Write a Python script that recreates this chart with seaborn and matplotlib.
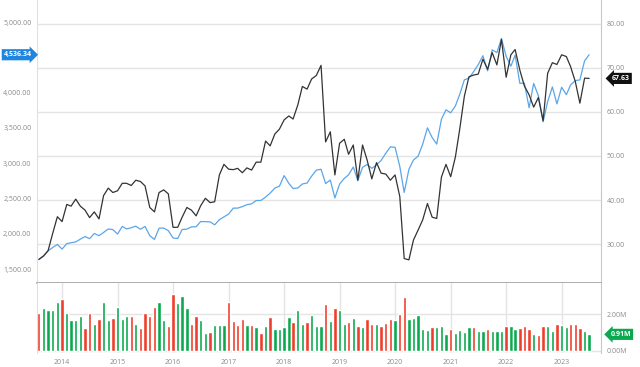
import numpy as np
import pandas as pd
import matplotlib
matplotlib.use("Agg")
import matplotlib.pyplot as plt
import matplotlib.dates as mdates
from matplotlib.transforms import blended_transform_factory
import seaborn as sns

# monthly points, Aug 2013 .. Jul 2023
dates = pd.date_range("2013-08-01", periods=120, freq="MS")

sp500 = [
    1632.97, 1681.55, 1756.54, 1805.81, 1848.36,
    1782.59, 1859.45, 1872.34, 1883.95, 1923.57, 1960.23, 1930.67, 2003.37, 1972.29, 2018.05, 2067.56, 2058.90,
    1994.99, 2104.50, 2067.89, 2085.51, 2107.39, 2063.11, 2103.84, 1972.18, 1920.03, 2079.36, 2080.41, 2043.94,
    1940.24, 1932.23, 2059.74, 2065.30, 2096.95, 2098.86, 2173.60, 2170.95, 2168.27, 2126.15, 2198.81, 2238.83,
    2278.87, 2363.64, 2362.72, 2384.20, 2411.80, 2423.41, 2470.30, 2471.65, 2519.36, 2575.26, 2647.58, 2673.61,
    2823.81, 2713.83, 2640.87, 2648.05, 2705.27, 2718.37, 2816.29, 2901.52, 2913.98, 2711.74, 2760.17, 2506.85,
    2704.10, 2784.49, 2834.40, 2945.83, 2752.06, 2941.76, 2980.38, 2926.46, 2976.74, 3037.56, 3140.98, 3230.78,
    3225.52, 2954.22, 2584.59, 2912.43, 3044.31, 3100.29, 3271.12, 3500.31, 3363.00, 3269.96, 3621.63, 3756.07,
    3714.24, 3811.15, 3972.89, 4181.17, 4204.11, 4297.50, 4395.26, 4522.68, 4307.54, 4605.38, 4567.00, 4766.18,
    4515.55, 4373.94, 4530.41, 4131.93, 4132.15, 3785.38, 4130.29, 3955.00, 3585.62, 3871.98, 4080.11, 3839.50,
    4076.60, 3970.15, 4109.31, 4169.48, 4179.83, 4450.38, 4536.34,
]

stock = [
    26.5, 27.3, 28.5, 32.5, 36.2, 35.1, 39.0, 38.6, 40.2, 38.6,
    37.7, 36.0, 37.3, 35.7, 41.0, 42.7, 41.7, 42.1, 43.8, 43.8,
    43.3, 44.5, 44.2, 43.2, 38.3, 37.3, 41.7, 42.3, 41.4, 33.8,
    33.8, 36.1, 38.3, 37.7, 36.4, 38.7, 40.4, 39.4, 39.6, 45.7,
    48.1, 47.0, 46.9, 47.2, 46.2, 47.3, 46.8, 48.6, 48.6, 53.4,
    52.3, 55.0, 56.1, 58.2, 59.1, 58.4, 61.6, 65.8, 65.2, 67.5,
    68.3, 70.6, 53.2, 55.5, 45.7, 52.9, 53.8, 50.4, 52.5, 44.5,
    52.5, 49.1, 44.8, 48.5, 46.1, 45.9, 44.5, 45.7, 40.8, 26.7,
    26.4, 30.9, 33.2, 35.5, 39.2, 36.1, 35.8, 45.2, 48.1, 45.3,
    49.8, 56.0, 63.6, 68.0, 68.4, 68.6, 72.0, 69.7, 73.5, 70.7,
    76.5, 67.9, 73.0, 74.2, 69.5, 65.9, 63.9, 61.1, 63.3, 58.0,
    68.8, 71.2, 70.8, 73.0, 72.6, 70.3, 66.9, 62.0, 67.7, 67.63,
]

volume_m = [
    2.09, 2.37, 2.26, 2.24, 2.67, 2.87, 2.09, 1.70, 1.69, 1.91,
    1.26, 2.06, 1.50, 1.76, 2.67, 1.72, 1.81, 2.39, 1.76, 1.90,
    1.93, 1.48, 1.26, 2.07, 1.93, 2.41, 2.67, 1.69, 1.37, 3.11,
    2.65, 3.00, 2.35, 1.46, 1.89, 1.67, 0.98, 1.02, 1.43, 1.43,
    1.43, 2.67, 1.63, 1.43, 1.74, 1.41, 1.43, 1.33, 1.00, 1.35,
    1.85, 1.20, 1.20, 1.31, 1.87, 1.61, 2.26, 1.48, 1.59, 1.96,
    1.39, 1.39, 2.56, 1.63, 2.35, 2.22, 1.46, 1.61, 1.81, 1.39,
    1.30, 1.74, 1.46, 1.50, 1.39, 1.52, 1.76, 1.70, 2.04, 2.94,
    1.74, 1.78, 1.96, 1.20, 1.15, 1.31, 1.30, 1.35, 0.94, 1.19,
    1.00, 1.17, 1.04, 1.30, 1.30, 1.09, 1.11, 1.19, 1.07, 1.07,
    1.07, 1.37, 1.35, 1.19, 1.24, 1.37, 1.22, 0.94, 0.87, 1.35,
    1.39, 1.09, 1.50, 1.44, 1.33, 1.46, 1.48, 1.26, 1.09, 0.91,
]

# u = green bar, d = red bar, ten months per chunk
volume_dir = "".join([
    "duuuuduuuu", "dduduuduuu", "dudddduudd", "uuudduuduu",
    "uddddududu", "duuuuduudu", "uududuudud", "uddudddudd",
    "uuuuuduuud", "uuuuduuduu", "uduudddudd", "uuduuddduu",
])

S_COLOR = "#5aa6ea"
STK_COLOR = "#333333"
UP = "#0aa84f"
DOWN = "#ef3d2b"
GRID = "#e4e4e4"
TXT = "#8a8a8a"

df = pd.DataFrame({"date": dates, "sp500": sp500, "stock": stock, "volume": volume_m})
colors = [UP if c == "u" else DOWN for c in volume_dir]

sns.set_style("white")
plt.rcParams["font.family"] = ["Open Sans", "DejaVu Sans"]

W, H = 640, 367


def rect(x0, y0, x1, y1):
    return [x0 / W, 1 - y1 / H, (x1 - x0) / W, (y1 - y0) / H]


fig = plt.figure(figsize=(6.4, 3.67), dpi=100)
ax_l = fig.add_axes(rect(37, 0, 601, 283))
ax_g = ax_l.twinx()
ax_r = ax_l.twinx()
ax_g.set_zorder(0)
ax_l.set_zorder(1)
ax_r.set_zorder(2)
ax_l.patch.set_visible(False)
ax_g.patch.set_visible(True)
ax_g.patch.set_facecolor("white")

# lines
sns.lineplot(data=df, x="date", y="sp500", ax=ax_l, color=S_COLOR, linewidth=0.9)
sns.lineplot(data=df, x="date", y="stock", ax=ax_r, color=STK_COLOR, linewidth=0.9)

xmin, xmax = pd.Timestamp("2013-07-20"), pd.Timestamp("2023-09-17")
ax_l.set_xlim(xmin, xmax)
ax_l.set_ylim(1302, 5312)
ax_g.set_ylim(21.14, 85.45)
ax_r.set_ylim(21.14, 85.45)

ax_l.set_yticks([1500, 2000, 2500, 3000, 3500, 4000, 5000])
ax_l.set_yticklabels([f"{v:,.2f}" for v in ax_l.get_yticks()])
ax_g.set_yticks([30, 40, 50, 60, 70, 80])
ax_g.set_yticklabels([f"{v:.2f}" for v in ax_g.get_yticks()])
ax_r.set_yticks([])

for a in (ax_l, ax_g, ax_r):
    a.set_xlabel("")
    a.set_ylabel("")
    a.xaxis.set_major_locator(mdates.YearLocator())
    a.tick_params(axis="x", labelbottom=False, length=0)
    a.tick_params(axis="y", length=0, labelsize=5, labelcolor=TXT, pad=4)
    for s in a.spines.values():
        s.set_visible(False)

ax_g.grid(True, color=GRID, linewidth=1)
ax_g.spines["left"].set_visible(True)
ax_g.spines["left"].set_color("#e0e0e0")
ax_g.spines["right"].set_visible(True)
ax_g.spines["right"].set_color("#c8c8c8")
ax_g.spines["bottom"].set_visible(True)
ax_g.spines["bottom"].set_color("#a0a0a0")
ax_g.spines["bottom"].set_linewidth(1.2)

# volume panel
ax_v = fig.add_axes(rect(37, 283, 601, 353), sharex=ax_l)
ax_v.bar(df["date"], df["volume"], width=22, color=colors, zorder=2)
ax_v.set_ylim(-0.11, 3.72)
ax_v.yaxis.tick_right()
ax_v.set_yticks([0, 2])
ax_v.set_yticklabels(["0.00M", "2.00M"])
ax_v.xaxis.set_major_locator(mdates.YearLocator())
ax_v.xaxis.set_major_formatter(mdates.DateFormatter("%Y"))
ax_v.tick_params(axis="both", length=0, labelsize=5, labelcolor=TXT)
ax_v.tick_params(axis="x", pad=4)
ax_v.tick_params(axis="y", pad=4)
ax_v.grid(True, color=GRID, linewidth=1, zorder=0)
ax_v.set_axisbelow(True)
for side, s in ax_v.spines.items():
    s.set_visible(side in ("left", "right"))
ax_v.spines["left"].set_color("#e0e0e0")
ax_v.spines["right"].set_color("#c8c8c8")
ax_v.set_xlim(xmin, xmax)

# value badges
tr = blended_transform_factory(ax_l.transAxes, ax_l.transData)
ax_l.text(-0.034, sp500[-1], f"{sp500[-1]:,.2f}", transform=tr, ha="center", va="center",
          fontsize=5, fontweight="bold", color="white", clip_on=False,
          bbox=dict(boxstyle="rarrow,pad=0.3", fc="#1e86e0", ec="none"))
tr = blended_transform_factory(ax_r.transAxes, ax_r.transData)
ax_r.text(1.035, stock[-1], f"{stock[-1]:.2f}", transform=tr, ha="center", va="center",
          fontsize=5, fontweight="bold", color="white", clip_on=False,
          bbox=dict(boxstyle="larrow,pad=0.3", fc="#111111", ec="none"))
tr = blended_transform_factory(ax_v.transAxes, ax_v.transData)
ax_v.text(1.035, volume_m[-1], f"{volume_m[-1]:.2f}M", transform=tr, ha="center", va="center",
          fontsize=5, fontweight="bold", color="white", clip_on=False,
          bbox=dict(boxstyle="larrow,pad=0.3", fc="#0aa84f", ec="none"))

fig.savefig("out.png", dpi=100)
